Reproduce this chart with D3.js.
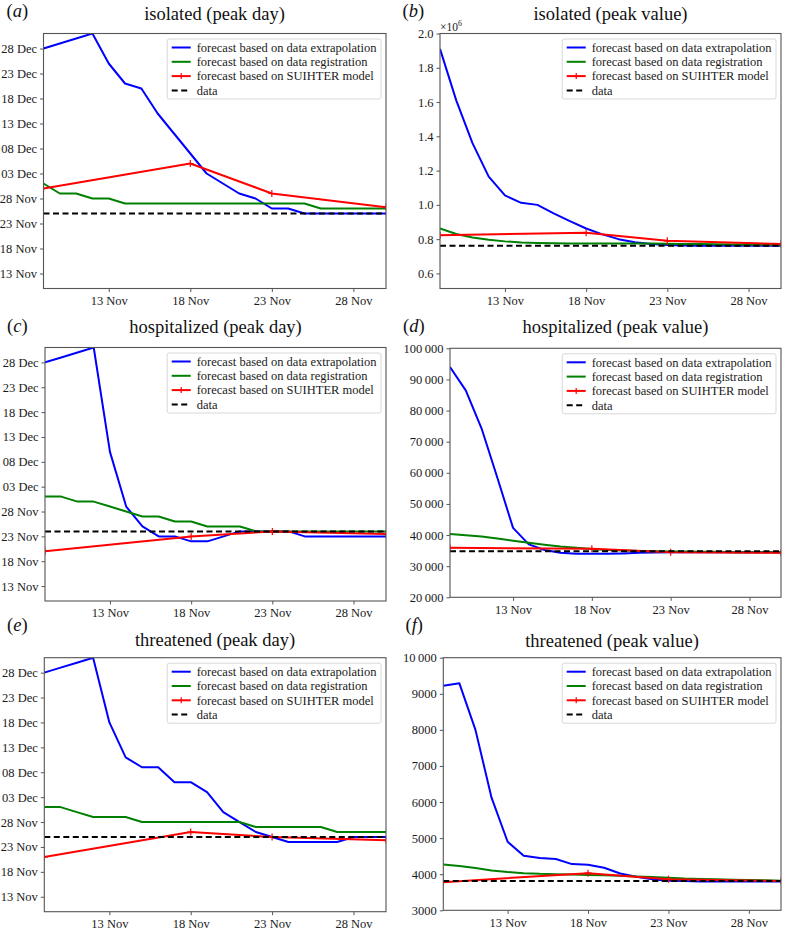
<!DOCTYPE html>
<html><head><meta charset="utf-8">
<script src="https://cdn.jsdelivr.net/npm/d3@7"></script>
<style>
html,body{margin:0;padding:0;background:#fff;}
svg{display:block;font-family:"Liberation Serif","DejaVu Serif",serif;}
</style></head><body>
<svg id="chart" width="786" height="933"></svg>
<script>
// ---------- data ----------
const days = ["2020-11-09","2020-11-10","2020-11-11","2020-11-12","2020-11-13","2020-11-14","2020-11-15","2020-11-16","2020-11-17","2020-11-18","2020-11-19","2020-11-20","2020-11-21","2020-11-22","2020-11-23","2020-11-24","2020-11-25","2020-11-26","2020-11-27","2020-11-28","2020-11-29","2020-11-30"];
const redDays = ["2020-11-09","2020-11-18","2020-11-23","2020-11-30"];
const xTickDays = ["2020-11-13","2020-11-18","2020-11-23","2020-11-28"];
const dayTicks = ["2020-11-13","2020-11-18","2020-11-23","2020-11-28","2020-12-03","2020-12-08","2020-12-13","2020-12-18","2020-12-23","2020-12-28"];
const seriesNames = ["forecast based on data extrapolation","forecast based on data registration","forecast based on SUIHTER model","data"];
const titles = ["isolated (peak day)","isolated (peak value)","hospitalized (peak day)","hospitalized (peak value)","threatened (peak day)","threatened (peak value)"];
const letters = ["a","b","c","d","e","f"];

// (a) isolated peak day
const isoDayBlue = ["2020-12-28","2020-12-29","2020-12-30","2020-12-31","2020-12-25","2020-12-21","2020-12-20","2020-12-15","2020-12-11","2020-12-07","2020-12-03","2020-12-01","2020-11-29","2020-11-28","2020-11-26","2020-11-26","2020-11-25","2020-11-25","2020-11-25","2020-11-25","2020-11-25","2020-11-25"];
const isoDayGreen = ["2020-12-01","2020-11-29","2020-11-29","2020-11-28","2020-11-28","2020-11-27","2020-11-27","2020-11-27","2020-11-27","2020-11-27","2020-11-27","2020-11-27","2020-11-27","2020-11-27","2020-11-27","2020-11-27","2020-11-27","2020-11-26","2020-11-26","2020-11-26","2020-11-26","2020-11-26"];
const isoDayRed = ["2020-11-30","2020-12-05","2020-11-29","2020-11-26T06:00Z"];
const isoDayData = "2020-11-25";

// (b) isolated peak value
const isoValBlue = [1910000,1610000,1360000,1165000,1055000,1012000,1000000,950000,905000,862000,828000,800000,782000,772000,766000,763000,762000,762000,762000,762000,762000,762000];
const isoValGreen = [862000,830000,810000,796000,787000,781000,778000,776000,775000,775000,775000,775000,775000,774000,773000,772000,771000,770000,769000,768000,767000,766000];
const isoValRed = [822000,838000,790000,772000];
const isoValData = 762000;
const isoValTicks = [600000,800000,1000000,1200000,1400000,1600000,1800000,2000000];
const isoValTickLabels = ["0.6","0.8","1.0","1.2","1.4","1.6","1.8","2.0"];

// (c) hospitalized peak day
const hosDayBlue = ["2020-12-28","2020-12-29","2020-12-30","2020-12-31","2020-12-10","2020-11-29","2020-11-25","2020-11-23","2020-11-23","2020-11-22","2020-11-22","2020-11-23","2020-11-24","2020-11-24","2020-11-24","2020-11-24","2020-11-23","2020-11-23","2020-11-23","2020-11-23","2020-11-23","2020-11-23"];
const hosDayGreen = ["2020-12-01","2020-12-01","2020-11-30","2020-11-30","2020-11-29","2020-11-28","2020-11-27","2020-11-27","2020-11-26","2020-11-26","2020-11-25","2020-11-25","2020-11-25","2020-11-24","2020-11-24","2020-11-24","2020-11-24","2020-11-24","2020-11-24","2020-11-24","2020-11-24","2020-11-24"];
const hosDayRed = ["2020-11-20","2020-11-23","2020-11-24","2020-11-23T12:00Z"];
const hosDayData = "2020-11-24";

// (d) hospitalized peak value
const hosValBlue = [94000,86500,74300,58500,42300,37000,35200,34300,34000,34000,34000,34100,34300,34400,34500,34500,34500,34500,34500,34500,34500,34500];
const hosValGreen = [40300,39900,39500,38900,38200,37500,36900,36300,35900,35500,35200,35000,34900,34800,34700,34700,34600,34600,34500,34500,34500,34500];
const hosValRed = [35900,35600,34500,34300];
const hosValData = 34800;
const hosValTicks = [20000,30000,40000,50000,60000,70000,80000,90000,100000];
const hosValTickLabels = ["20\u2009000","30\u2009000","40\u2009000","50\u2009000","60\u2009000","70\u2009000","80\u2009000","90\u2009000","100\u2009000"];

// (e) threatened peak day
const thrDayBlue = ["2020-12-28","2020-12-29","2020-12-30","2020-12-31","2020-12-18","2020-12-11","2020-12-09","2020-12-09","2020-12-06","2020-12-06","2020-12-04","2020-11-30","2020-11-28","2020-11-26","2020-11-25","2020-11-24","2020-11-24","2020-11-24","2020-11-24","2020-11-25","2020-11-25","2020-11-25"];
const thrDayGreen = ["2020-12-01","2020-12-01","2020-11-30","2020-11-29","2020-11-29","2020-11-29","2020-11-28","2020-11-28","2020-11-28","2020-11-28","2020-11-28","2020-11-28","2020-11-28","2020-11-27","2020-11-27","2020-11-27","2020-11-27","2020-11-27","2020-11-26","2020-11-26","2020-11-26","2020-11-26"];
const thrDayRed = ["2020-11-21","2020-11-26","2020-11-25","2020-11-24T08:00Z"];
const thrDayData = "2020-11-25";

// (f) threatened peak value
const thrValBlue = [9220,9290,8000,6120,4900,4510,4450,4420,4280,4260,4180,4020,3930,3860,3820,3810,3800,3800,3800,3800,3800,3800];
const thrValGreen = [4270,4230,4170,4100,4060,4030,4010,4000,3990,3980,3970,3960,3940,3920,3900,3880,3870,3860,3850,3840,3830,3820];
const thrValRed = [3780,4030,3860,3810];
const thrValData = 3810;
const thrValTicks = [3000,4000,5000,6000,7000,8000,9000,10000];
const thrValTickLabels = ["3000","4000","5000","6000","7000","8000","9000","10\u2009000"];

// ---------- layout (positions only) ----------
const layout = [
  {l:43.5, r:386, t:33.5, b:288.5, tx:214.5, ty:19.5, lx:6.5, ly:16.5},
  {l:440, r:781, t:33.5, b:288.5, tx:610.5, ty:19.5, lx:402.5, ly:16.5},
  {l:45, r:386, t:347.5, b:601, tx:215.5, ty:333, lx:7, ly:332},
  {l:450, r:781, t:348.3, b:597.3, tx:615.5, ty:333, lx:403, ly:332},
  {l:44.3, r:386, t:657.7, b:911.7, tx:215, ty:645.5, lx:7, ly:630.5},
  {l:443.3, r:781, t:657.7, b:910.3, tx:612, ty:646.5, lx:405.5, ly:630.5}
];

const panels = [
  {kind:"day", blue:isoDayBlue, green:isoDayGreen, red:isoDayRed, data:isoDayData},
  {kind:"value", blue:isoValBlue, green:isoValGreen, red:isoValRed, data:isoValData, domain:[512000,2000000], ticks:isoValTicks, labels:isoValTickLabels, mult:true},
  {kind:"day", blue:hosDayBlue, green:hosDayGreen, red:hosDayRed, data:hosDayData},
  {kind:"value", blue:hosValBlue, green:hosValGreen, red:hosValRed, data:hosValData, domain:[20000,100000], ticks:hosValTicks, labels:hosValTickLabels},
  {kind:"day", blue:thrDayBlue, green:thrDayGreen, red:thrDayRed, data:thrDayData},
  {kind:"value", blue:thrValBlue, green:thrValGreen, red:thrValRed, data:thrValData, domain:[3000,10000], ticks:thrValTicks, labels:thrValTickLabels}
];

// ---------- drawing ----------
const P = s => new Date(s);
const fmt = d3.utcFormat("%d %b");
const svg = d3.select("#chart");
const colors = ["#0000ff","#008000","#ff0000","#000000"];
const spine = "#555";

panels.forEach((p, i) => {
  const L = layout[i];
  const g = svg.append("g");
  const x = d3.scaleUtc().domain([P(days[0]), P(days[days.length-1])]).range([L.l, L.r]);
  let y, yv;
  if (p.kind === "day") {
    y = d3.scaleUtc().domain([P("2020-11-10"), P("2020-12-31")]).range([L.b, L.t]);
    yv = v => y(P(v));
  } else {
    y = d3.scaleLinear().domain(p.domain).range([L.b, L.t]);
    yv = v => y(v);
  }
  const cid = "clip" + i;
  svg.append("clipPath").attr("id", cid).append("rect")
    .attr("x", L.l).attr("y", L.t).attr("width", L.r - L.l).attr("height", L.b - L.t);

  // axes
  const xAxis = d3.axisBottom(x).tickValues(xTickDays.map(P)).tickFormat(fmt).tickSize(3.5).tickPadding(4);
  const gx = g.append("g").attr("transform", `translate(0,${L.b})`).call(xAxis);
  let yAxis;
  if (p.kind === "day") {
    yAxis = d3.axisLeft(y).tickValues(dayTicks.map(P)).tickFormat(fmt);
  } else {
    yAxis = d3.axisLeft(y).tickValues(p.ticks).tickFormat((d, k) => p.labels[k]);
  }
  yAxis.tickSize(3.5).tickPadding(3);
  const gy = g.append("g").attr("transform", `translate(${L.l},0)`).call(yAxis);
  [gx, gy].forEach(a => {
    a.select(".domain").remove();
    a.selectAll(".tick line").attr("stroke", spine).attr("stroke-width", 1);
    a.selectAll(".tick text").attr("fill", "#1a1a1a").style("font-size", "12.5px").style("font-family", '"Liberation Serif",serif');
  });

  // lines
  const plot = g.append("g").attr("clip-path", `url(#${cid})`);
  const line = d3.line();
  const bluePts = days.map((d, k) => [x(P(d)), yv(p.blue[k])]);
  const greenPts = days.map((d, k) => [x(P(d)), yv(p.green[k])]);
  const redPts = redDays.map((d, k) => [x(P(d)), yv(p.red[k])]);
  const dataPts = [days[0], days[days.length-1]].map(d => [x(P(d)), yv(p.data)]);
  plot.append("path").attr("d", line(bluePts)).attr("fill", "none").attr("stroke", colors[0]).attr("stroke-width", 2).attr("stroke-linejoin", "round");
  plot.append("path").attr("d", line(greenPts)).attr("fill", "none").attr("stroke", colors[1]).attr("stroke-width", 2).attr("stroke-linejoin", "round");
  plot.append("path").attr("d", line(redPts)).attr("fill", "none").attr("stroke", colors[2]).attr("stroke-width", 2).attr("stroke-linejoin", "round");
  plot.selectAll(".mk").data(redPts).enter().append("path")
    .attr("d", d => `M${d[0]-3.5},${d[1]}H${d[0]+3.5}M${d[0]},${d[1]-3.5}V${d[1]+3.5}`)
    .attr("stroke", colors[2]).attr("stroke-width", 1.2);
  plot.append("path").attr("d", line(dataPts)).attr("fill", "none").attr("stroke", colors[3]).attr("stroke-width", 2).attr("stroke-dasharray", "6,3.5");

  // frame
  g.append("rect").attr("x", L.l).attr("y", L.t).attr("width", L.r - L.l).attr("height", L.b - L.t)
    .attr("fill", "none").attr("stroke", spine).attr("stroke-width", 1.1);

  // legend
  const lg = g.append("g");
  const box = lg.append("rect").attr("fill", "#fff").attr("fill-opacity", 0.85).attr("stroke", "#d8d8d8").attr("stroke-width", 1).attr("rx", 2);
  let maxW = 0;
  const texts = [];
  seriesNames.forEach((name, k) => {
    const t = lg.append("text").attr("font-size", "12.5px").attr("fill", "#1a1a1a").text(name);
    maxW = Math.max(maxW, t.node().getComputedTextLength());
    texts.push(t);
  });
  const bw = maxW + 34, bh = 60;
  const bx = L.r - 5 - bw, by = L.t + 5.5;
  box.attr("x", bx).attr("y", by).attr("width", bw).attr("height", bh);
  seriesNames.forEach((name, k) => {
    const cy = by + 8.5 + k * 14.3;
    texts[k].attr("x", bx + 29.5).attr("y", cy + 4.3);
    const ln = lg.append("line").attr("x1", bx + 4.5).attr("x2", bx + 23.5).attr("y1", cy).attr("y2", cy)
      .attr("stroke", colors[k]).attr("stroke-width", 2);
    if (k === 3) ln.attr("stroke-dasharray", "6,3.5");
    if (k === 2) lg.append("path").attr("d", `M${bx+14},${cy-3}V${cy+3}`).attr("stroke", colors[2]).attr("stroke-width", 1.2);
  });

  // title & label
  g.append("text").attr("x", L.tx).attr("y", L.ty).attr("text-anchor", "middle").attr("font-size", "18.5px").attr("fill", "#111").text(titles[i]);
  const lab = g.append("text").attr("x", L.lx).attr("y", L.ly).attr("font-size", "18.5px").attr("fill", "#111");
  lab.append("tspan").text("(");
  lab.append("tspan").attr("font-style", "italic").text(letters[i]);
  lab.append("tspan").text(")");

  if (p.mult) {
    const m = g.append("text").attr("x", L.l).attr("y", L.t - 3).attr("font-size", "11.5px").attr("fill", "#1a1a1a");
    m.append("tspan").text("\u00d710");
    m.append("tspan").attr("font-size", "8px").attr("dy", -5).text("6");
  }
});
</script>
</body></html>
